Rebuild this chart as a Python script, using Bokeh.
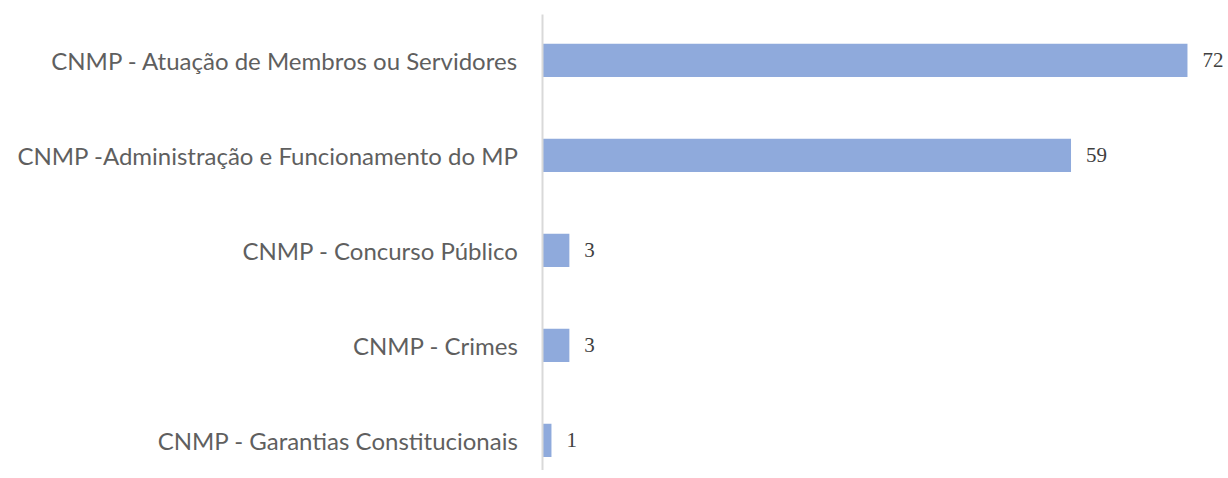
from bokeh.plotting import figure
from bokeh.models import FixedTicker, Range1d, ColumnDataSource
from bokeh.core.properties import value
from bokeh.embed import file_html
from bokeh.resources import INLINE

categories = [
    "CNMP - Atuação de Membros ou Servidores",
    "CNMP -Administração e Funcionamento do MP",
    "CNMP - Concurso Público",
    "CNMP - Crimes",
    "CNMP - Garantias Constitucionais",
]
counts = [72, 59, 3, 3, 1]

n = len(categories)
ypos = [n - 1 - i for i in range(n)]
labels = [str(v) for v in counts]

src = ColumnDataSource(dict(y=ypos, v=counts, lab=labels))

p = figure(width=1228, height=470, output_backend="svg", toolbar_location=None,
           x_range=Range1d(0, 76.58), y_range=Range1d(-0.316, 4.484),
           min_border_left=542, min_border_right=0, min_border_top=14, min_border_bottom=0)

p.hbar(y="y", right="v", left=0, height=0.35, source=src,
       fill_color="#8faadc", line_color=None)

p.text(x="v", y="y", text="lab", source=src, x_offset=15,
       text_baseline="middle", text_align="left",
       text_font=value("Liberation Serif"), text_font_size="21px",
       text_color="#404040")

p.xaxis.visible = False
p.xgrid.visible = False
p.ygrid.visible = False
p.outline_line_color = None

ax = p.yaxis[0]
ax.ticker = FixedTicker(ticks=ypos)
ax.major_label_overrides = {y: c for y, c in zip(ypos, categories)}
ax.major_tick_line_color = None
ax.minor_tick_line_color = None
ax.axis_line_color = "#d9d9d9"
ax.axis_line_width = 2
ax.major_label_standoff = 18
ax.major_label_text_font = "Lato"
ax.major_label_text_font_size = "24px"
ax.major_label_text_color = "#5f5f5f"
ax.major_label_text_font_style = "normal"

open("out.html", "w").write(file_html(p, INLINE))
